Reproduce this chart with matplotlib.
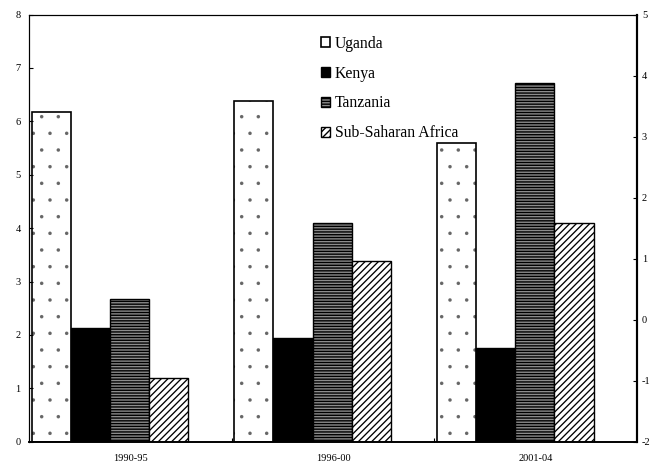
import numpy as np
import matplotlib
matplotlib.use("Agg")
import matplotlib.pyplot as plt

plt.rcParams["font.family"] = ["Liberation Serif", "DejaVu Serif"]
plt.rcParams["axes.unicode_minus"] = False

periods = ["1990-95", "1996-00", "2001-04"]
countries = ["Uganda", "Kenya", "Tanzania", "Sub-Saharan Africa"]
uganda = [6.17, 6.38, 5.59]
kenya = [2.12, 1.94, 1.76]
tanzania = [2.67, 4.09, 6.71]
ssa = [1.19, 3.39, 4.09]
left_ticks = [0, 1, 2, 3, 4, 5, 6, 7, 8]
right_ticks = [-2, -1, 0, 1, 2, 3, 4, 5]

series = [uganda, kenya, tanzania, ssa]
styles = [
    dict(facecolor="white", hatch=".", hlw=0.1, hcol="#666666"),
    dict(facecolor="black", hatch=None, hlw=0.5, hcol="black"),
    dict(facecolor="#8c8c8c", hatch="------", hlw=1.0, hcol="black"),
    dict(facecolor="white", hatch="/////", hlw=0.95, hcol="black"),
]

fig = plt.figure(figsize=(6.53, 4.63), dpi=100)
ax = fig.add_axes([29 / 653, 21.3 / 463, 608 / 653, 427.2 / 463])

x = np.arange(len(periods))
bar_w = 0.1932
start = -0.5 + 0.013

handles = []
for i, (vals, st) in enumerate(zip(series, styles)):
    pos = x + start + i * bar_w
    if st["hcol"] != "black":
        # pattern layer in a lighter colour, outline drawn on top
        with plt.rc_context({"hatch.linewidth": st["hlw"]}):
            fill = ax.bar(pos, vals, width=bar_w, align="edge",
                          facecolor=st["facecolor"], edgecolor=st["hcol"],
                          linewidth=0, hatch=st["hatch"])
            for b in fill:
                if hasattr(b, "set_hatch_linewidth"):
                    b.set_hatch_linewidth(st["hlw"])
        bars = ax.bar(pos, vals, width=bar_w, align="edge",
                      facecolor="white", fill=False, edgecolor="black",
                      linewidth=1.2, label=countries[i])
    else:
        with plt.rc_context({"hatch.linewidth": st["hlw"]}):
            bars = ax.bar(pos, vals, width=bar_w, align="edge",
                          facecolor=st["facecolor"], edgecolor="black",
                          linewidth=1.0, hatch=st["hatch"], label=countries[i])
            for b in bars:
                if hasattr(b, "set_hatch_linewidth"):
                    b.set_hatch_linewidth(st["hlw"])
    handles.append(bars)

ax.set_xlim(-0.5, 2.5)
ax.set_ylim(0, 8)
ax.set_yticks(left_ticks)
ax.set_xticks([0.5, 1.5])
ax.set_xticklabels([])
ax.set_xticks(x, minor=True)
ax.set_xticklabels(periods, minor=True)
ax.tick_params(axis="x", which="major", direction="in", length=3, width=0.8)
ax.tick_params(axis="x", which="minor", length=0, pad=9, labelsize=7.5)
ax.tick_params(axis="y", direction="in", length=3, width=0.8, pad=6, labelsize=7.5)

ax2 = ax.twinx()
ax2.set_ylim(-2, 5)
ax2.set_yticks(right_ticks)
ax2.tick_params(axis="y", direction="in", length=3, width=0.8, pad=3.5, labelsize=7.5)

for a in (ax, ax2):
    a.spines["top"].set_linewidth(0.8)
    a.spines["left"].set_linewidth(0.8)
    a.spines["right"].set_linewidth(1.5)
    a.spines["bottom"].set_linewidth(1.2)

leg = ax.legend(handles=handles, loc="upper left", bbox_to_anchor=(0.462, 0.976),
                frameon=False, fontsize=11.3, handlelength=0.6, handleheight=0.6,
                handletextpad=0.3, labelspacing=0.88, borderpad=0.2)

fig.savefig("out.png", dpi=100)
